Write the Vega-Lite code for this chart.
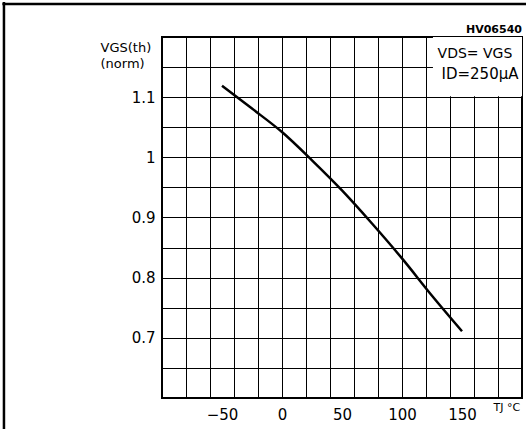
{
  "$schema": "https://vega.github.io/schema/vega-lite/v6.json",
  "width": 360,
  "height": 361,
  "autosize": {"type": "none"},
  "padding": {"left": 162, "top": 37, "right": 4, "bottom": 31},
  "background": "white",
  "config": {
    "view": {"stroke": "black", "strokeWidth": 2},
    "font": "DejaVu Sans"
  },
  "resolve": {"axis": {"x": "independent", "y": "independent"}},
  "layer": [
    {
      "data": {
        "values": [
          {"T": -50, "V": 1.119},
          {"T": -25, "V": 1.081},
          {"T": 0, "V": 1.042},
          {"T": 25, "V": 0.995},
          {"T": 50, "V": 0.945},
          {"T": 75, "V": 0.890},
          {"T": 100, "V": 0.832},
          {"T": 125, "V": 0.770},
          {"T": 150, "V": 0.711}
        ]
      },
      "mark": {"type": "line", "color": "black", "strokeWidth": 2.5, "interpolate": "monotone"},
      "encoding": {
        "x": {"field": "T", "type": "quantitative", "scale": {"domain": [-100, 200], "nice": false, "zero": false},
          "axis": {
            "orient": "bottom",
            "tickCount": 12,
            "labels": false,
            "ticks": false,
            "domain": false,
            "grid": true,
            "gridColor": "black",
            "gridWidth": 1,
            "gridOpacity": 1,
            "title": null
          }
        },
        "y": {"field": "V", "type": "quantitative", "scale": {"domain": [0.6, 1.2], "nice": false, "zero": false},
          "axis": {
            "orient": "left",
            "tickCount": 12,
            "labels": false,
            "ticks": false,
            "domain": false,
            "grid": true,
            "gridColor": "black",
            "gridWidth": 1,
            "gridOpacity": 1,
            "title": null
          }
        }
      }
    },
    {
      "data": {"values": [{}]},
      "mark": {"type": "rect", "fill": "white"},
      "encoding": {
        "x": {"datum": 125.8, "type": "quantitative",
          "axis": {
            "orient": "bottom",
            "values": [-50, 0, 50, 100, 150],
            "ticks": false,
            "domain": false,
            "grid": false,
            "labelFontSize": 15,
            "labelColor": "black",
            "labelPadding": 9,
            "labelFlush": false,
            "title": "TJ °C",
            "titleFontSize": 11,
            "titleFontWeight": "normal",
            "titleColor": "black",
            "titleAlign": "left",
            "titleBaseline": "middle",
            "titleX": 331,
            "titleY": 9
          }
        },
        "x2": {"datum": 200},
        "y": {"datum": 1.1015, "type": "quantitative",
          "axis": {
            "orient": "left",
            "values": [0.7, 0.8, 0.9, 1, 1.1],
            "format": ".2~f",
            "ticks": false,
            "domain": false,
            "grid": false,
            "labelFontSize": 15,
            "labelColor": "black",
            "labelPadding": 7,
            "labelFlush": false,
            "title": ["VGS(th)", "(norm)"],
            "titleAngle": 0,
            "titleAlign": "left",
            "titleBaseline": "top",
            "titleX": -62,
            "titleY": 4,
            "titleFontSize": 13,
            "titleFontWeight": "normal",
            "titleColor": "black",
            "titleLineHeight": 16
          }
        },
        "y2": {"datum": 1.2}
      }
    },
    {
      "data": {"values": [{}]},
      "mark": {"type": "text", "text": "VDS= VGS", "fontSize": 14, "fontWeight": "normal", "color": "black", "align": "center", "baseline": "middle"},
      "encoding": {
        "x": {"datum": 160.8, "type": "quantitative", "axis": null},
        "y": {"datum": 1.1717, "type": "quantitative", "axis": null}
      }
    },
    {
      "data": {"values": [{}]},
      "mark": {"type": "text", "text": "ID=250μA", "fontSize": 15, "fontWeight": "normal", "color": "black", "align": "center", "baseline": "middle"},
      "encoding": {
        "x": {"datum": 165, "type": "quantitative", "axis": null},
        "y": {"datum": 1.139, "type": "quantitative", "axis": null}
      }
    },
    {
      "data": {"values": [{}]},
      "mark": {"type": "text", "text": "HV06540", "fontSize": 11, "fontWeight": "bold", "color": "black", "align": "right", "baseline": "alphabetic", "dy": -4},
      "encoding": {
        "x": {"datum": 200, "type": "quantitative", "axis": null},
        "y": {"datum": 1.2, "type": "quantitative", "axis": null}
      }
    },
    {
      "data": {"values": [{}]},
      "mark": {"type": "rule", "color": "black", "strokeWidth": 2.5},
      "encoding": {
        "x": {"datum": -231.7, "type": "quantitative", "axis": null},
        "y": {"datum": 0.5, "type": "quantitative", "axis": null},
        "y2": {"datum": 1.258}
      }
    },
    {
      "data": {"values": [{}]},
      "mark": {"type": "rule", "color": "black", "strokeWidth": 2.5},
      "encoding": {
        "x": {"datum": -233, "type": "quantitative", "axis": null},
        "x2": {"datum": 210},
        "y": {"datum": 1.255, "type": "quantitative", "axis": null}
      }
    }
  ]
}
